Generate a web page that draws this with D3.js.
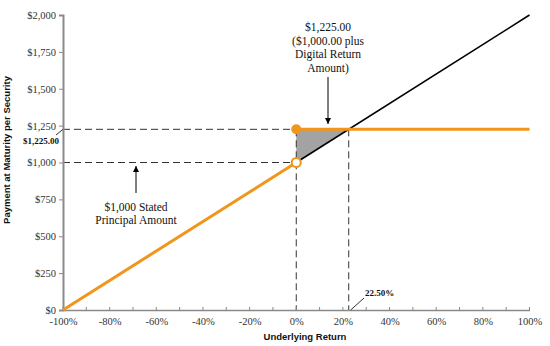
<!DOCTYPE html>
<html><head><meta charset="utf-8">
<script src="https://cdn.jsdelivr.net/npm/d3@7"></script>
<style>body{margin:0;background:#fff}</style>
</head><body><svg id="c" width="550" height="346"></svg>
<script>
const xTicks = [-1,-0.8,-0.6,-0.4,-0.2,0,0.2,0.4,0.6,0.8,1];
const xMinor = d3.range(-10,11).map(d=>d/10);
const yTicks = [0,250,500,750,1000,1250,1500,1750,2000];
const principal = 1000;
const capped = 1225;
const capReturn = 0.225;
const downside = [[-1,0],[0,1000]];
const cappedLine = [[0,1225],[1,1225]];
const underlyingLine = [[0,1000],[1,2000]];
const shaded = [[0,1000],[0,1225],[0.225,1225]];

const svg = d3.select("#c");
const x = d3.scaleLinear().domain([-1,1]).range([63,529.5]);
const y = d3.scaleLinear().domain([0,2000]).range([310,15]);
const orange = "#f0961c";
const line = d3.line().x(d=>x(d[0])).y(d=>y(d[1]));

// shaded area
svg.append("path").attr("d", line(shaded)+"Z").attr("fill","#a3a3a3");

// dashed guides
const dash = (x1,y1,x2,y2)=>svg.append("line").attr("x1",x1).attr("y1",y1).attr("x2",x2).attr("y2",y2)
  .attr("stroke","#333").attr("stroke-width",1).attr("stroke-dasharray","7,4");
dash(x(-1),y(capped),x(0),y(capped));
dash(x(-1),y(principal),x(0),y(principal));
dash(x(0),y(capped),x(0),y(0));
dash(x(capReturn),y(capped),x(capReturn),y(0));

// axes
const yAxis = svg.append("g").attr("transform",`translate(${x(-1)},0)`)
  .call(d3.axisLeft(y).tickValues(yTicks).tickSize(4).tickFormat(d=>"$"+d3.format(",")(d)));
yAxis.select(".domain").attr("stroke","#8a8a8a").attr("stroke-width",2);
yAxis.selectAll(".tick line").attr("stroke","#8a8a8a");
yAxis.selectAll("text").attr("font-family","'Liberation Serif', serif").attr("font-size",10.5).attr("fill","#333");

const xAxis = svg.append("g").attr("transform",`translate(0,${y(0)})`)
  .call(d3.axisBottom(x).tickValues(xTicks).tickSize(0).tickPadding(8).tickFormat(d=>Math.round(d*100)+"%"));
xAxis.select(".domain").attr("stroke","#8a8a8a").attr("stroke-width",1.5);
xAxis.selectAll("text").attr("font-family","'Liberation Serif', serif").attr("font-size",10.5).attr("fill","#333");
svg.append("g").selectAll("line").data(xMinor).join("line")
  .attr("x1",d=>x(d)).attr("x2",d=>x(d)).attr("y1",y(0)).attr("y2",y(0)-3).attr("stroke","#8a8a8a");

// lines
svg.append("path").attr("d",line(underlyingLine)).attr("stroke","#000").attr("stroke-width",1.6).attr("fill","none");
svg.append("path").attr("d",line(downside)).attr("stroke",orange).attr("stroke-width",3).attr("fill","none");
svg.append("path").attr("d",line(cappedLine)).attr("stroke",orange).attr("stroke-width",3).attr("fill","none");
svg.append("circle").attr("cx",x(0)).attr("cy",y(principal)).attr("r",4.5).attr("fill","#fff").attr("stroke",orange).attr("stroke-width",2);
svg.append("circle").attr("cx",x(0)).attr("cy",y(capped)).attr("r",5).attr("fill",orange);

// annotations
const serif = "'Liberation Serif', serif";
const txt = (lines,cx,y0,lh,size,weight)=>{
  const t = svg.append("text").attr("font-family",serif).attr("font-size",size).attr("font-weight",weight||"normal")
    .attr("text-anchor","middle").attr("fill","#111");
  lines.forEach((l,i)=>t.append("tspan").attr("x",cx).attr("y",y0+i*lh).text(l));
};
txt(["$1,225.00","($1,000.00 plus","Digital Return","Amount)"],328,31,13.5,11.5);
txt(["$1,000 Stated","Principal Amount"],136,211,12.5,11.5);

svg.append("defs").append("marker").attr("id","ah").attr("viewBox","0 0 10 10").attr("refX",10).attr("refY",5)
  .attr("markerWidth",6).attr("markerHeight",6).attr("orient","auto")
  .append("path").attr("d","M0,0L10,5L0,10Z").attr("fill","#000");
svg.append("line").attr("x1",328).attr("y1",77).attr("x2",328).attr("y2",124).attr("stroke","#000").attr("stroke-width",1).attr("marker-end","url(#ah)");
svg.append("line").attr("x1",136).attr("y1",193).attr("x2",136).attr("y2",166).attr("stroke","#000").attr("stroke-width",1).attr("marker-end","url(#ah)");

// side labels
svg.append("line").attr("x1",x(-1)).attr("y1",y(capped)).attr("x2",56).attr("y2",135).attr("stroke","#333");
svg.append("text").attr("x",41).attr("y",144).attr("text-anchor","middle").attr("font-family",serif)
  .attr("font-size",9).attr("font-weight","bold").attr("fill","#111").text("$1,225.00");
svg.append("line").attr("x1",x(capReturn)+2).attr("y1",y(0)).attr("x2",364).attr("y2",298).attr("stroke","#333");
svg.append("text").attr("x",365).attr("y",296).attr("font-family",serif)
  .attr("font-size",9).attr("font-weight","bold").attr("fill","#111").text("22.50%");

// axis titles
const sans = "'Liberation Sans', Arial, sans-serif";
svg.append("text").attr("transform","translate(10,150) rotate(-90)").attr("text-anchor","middle")
  .attr("font-family",sans).attr("font-size",9.5).attr("font-weight","bold").attr("fill","#111").text("Payment at Maturity per Security");
svg.append("text").attr("x",305).attr("y",340).attr("text-anchor","middle")
  .attr("font-family",sans).attr("font-size",9.5).attr("font-weight","bold").attr("fill","#111").text("Underlying Return");
</script></body></html>
